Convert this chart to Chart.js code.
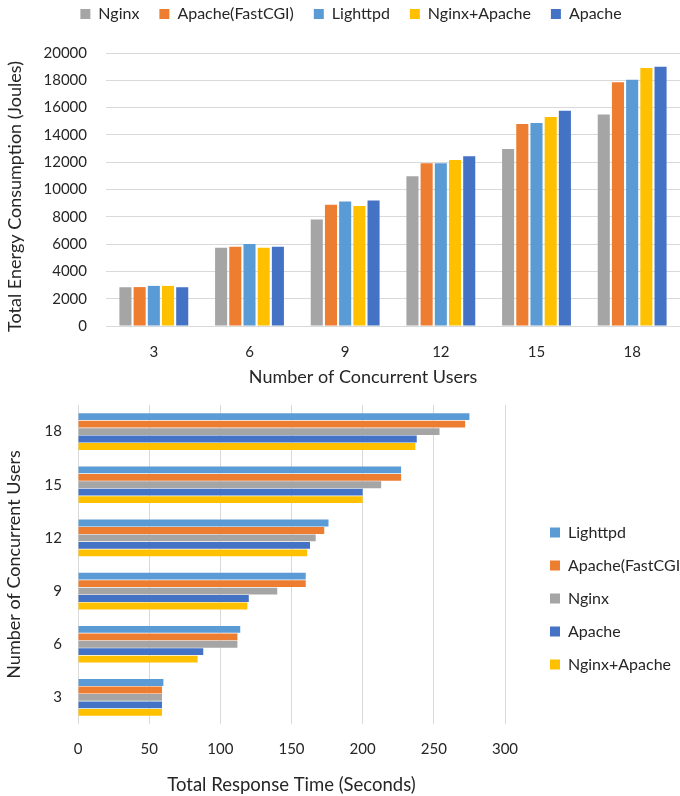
<!DOCTYPE html>
<html>
<head>
<meta charset="utf-8">
<script src="https://cdn.jsdelivr.net/npm/chart.js@4.4.1/dist/chart.umd.min.js"></script>
<style>
  body { margin: 0; background: #fff; }
  #top { position: relative; width: 680px; height: 392px; }
  #bottom { position: relative; width: 680px; height: 404px; }
</style>
</head>
<body>
<div id="top"><canvas id="energyChart"></canvas></div>
<div id="bottom"><canvas id="timeChart"></canvas></div>
<script>
// concurrent users
const users = ["3", "6", "9", "12", "15", "18"];

// total energy consumption (Joules)
const energyNginx = [2840, 5730, 7810, 10970, 12970, 15500];
const energyFastCGI = [2850, 5800, 8890, 11920, 14790, 17850];
const energyLighttpd = [2940, 6000, 9130, 11920, 14880, 18040];
const energyNginxApache = [2940, 5730, 8790, 12170, 15320, 18900];
const energyApache = [2840, 5800, 9200, 12440, 15770, 19000];

// total response time (seconds)
const timeLighttpd = [60, 114, 160, 176, 227, 275];
const timeFastCGI = [59, 112, 160, 173, 227, 272];
const timeNginx = [59, 112, 140, 167, 213, 254];
const timeApache = [59, 88, 120, 163, 200, 238];
const timeNginxApache = [59, 84, 119, 161, 200, 237];

const grey = "#a5a5a5";
const orange = "#ed7d31";
const lightBlue = "#5b9bd5";
const yellow = "#ffc000";
const blue = "#4472c4";
const gridColor = "#d9d9d9";

Chart.defaults.font.family = "Lato";
Chart.defaults.color = "#262626";

// resize / nudge the legend box so it sits where the original has it
function legendBox(w, h, dx, dy) {
  return {
    id: "legendBox",
    beforeInit(chart) {
      const fit = chart.legend.fit;
      chart.legend.fit = function () {
        fit.call(this);
        if (w) this.width = w;
        if (h) this.height = h;
      };
    },
    afterLayout(chart) {
      const lg = chart.legend;
      lg.left += dx; lg.right += dx;
      lg.top += dy; lg.bottom += dy;
    },
  };
}

new Chart(document.getElementById("energyChart"), {
  type: "bar",
  data: {
    labels: users,
    datasets: [
      { label: "Nginx", data: energyNginx, backgroundColor: grey },
      { label: "Apache(FastCGI)", data: energyFastCGI, backgroundColor: orange },
      { label: "Lighttpd", data: energyLighttpd, backgroundColor: lightBlue },
      { label: "Nginx+Apache", data: energyNginxApache, backgroundColor: yellow },
      { label: "Apache", data: energyApache, backgroundColor: blue },
    ],
  },
  options: {
    responsive: true,
    maintainAspectRatio: false,
    animation: false,
    layout: { padding: 0 },
    categoryPercentage: 0.742,
    barPercentage: 0.85,
    plugins: {
      legend: {
        position: "top",
        labels: { boxWidth: 10, boxHeight: 10, padding: 20, font: { size: 16 } },
      },
      tooltip: { enabled: false },
    },
    scales: {
      x: {
        grid: { display: false },
        border: { color: gridColor },
        ticks: { padding: 9, font: { size: 15 } },
        title: {
          display: true,
          text: "Number of Concurrent Users" + " ".repeat(13),
          font: { size: 18 },
          padding: { top: 0, bottom: 4 },
        },
        afterFit: (s) => { s.height = 66; },
      },
      y: {
        min: 0,
        max: 20000,
        grid: { color: gridColor, drawTicks: false },
        border: { display: false },
        ticks: { stepSize: 2000, padding: 19, font: { size: 15 }, callback: (v) => String(v) },
        title: {
          display: true,
          text: "Total Energy Consumption (Joules)" + " ".repeat(3),
          font: { size: 18 },
          padding: { top: 4, bottom: 0 },
        },
        afterFit: (s) => { s.width = 106; },
      },
    },
  },
  plugins: [legendBox(0, 53, 11, -14)],
});

new Chart(document.getElementById("timeChart"), {
  type: "bar",
  data: {
    labels: users,
    datasets: [
      { label: "Lighttpd", data: timeLighttpd, backgroundColor: lightBlue },
      { label: "Apache(FastCGI)", data: timeFastCGI, backgroundColor: orange },
      { label: "Nginx", data: timeNginx, backgroundColor: grey },
      { label: "Apache", data: timeApache, backgroundColor: blue },
      { label: "Nginx+Apache", data: timeNginxApache, backgroundColor: yellow },
    ],
  },
  options: {
    indexAxis: "y",
    responsive: true,
    maintainAspectRatio: false,
    animation: false,
    layout: { padding: { top: 13 } },
    categoryPercentage: 0.7,
    barPercentage: 0.92,
    plugins: {
      legend: {
        position: "right",
        labels: { boxWidth: 10, boxHeight: 10, padding: 17, font: { size: 16 } },
      },
      tooltip: { enabled: false },
    },
    scales: {
      x: {
        min: 0,
        max: 300,
        grid: { color: gridColor, drawTicks: false },
        border: { display: false },
        ticks: { stepSize: 50, padding: 16, font: { size: 15 } },
        title: {
          display: true,
          text: "Total Response Time (Seconds)",
          font: { size: 18.5 },
          padding: { top: 0, bottom: 0 },
        },
        afterFit: (s) => { s.height = 72; },
      },
      y: {
        reverse: true,
        grid: { display: false, drawTicks: true, tickLength: 16 },
        border: { display: false },
        ticks: { padding: 0, font: { size: 15 } },
        title: {
          display: true,
          text: "Number of Concurrent Users",
          font: { size: 18 },
          padding: { top: 3, bottom: 0 },
        },
        afterFit: (s) => { s.width = 78; },
      },
    },
  },
  plugins: [legendBox(175, 0, 28, -2)],
});
</script>
</body>
</html>
